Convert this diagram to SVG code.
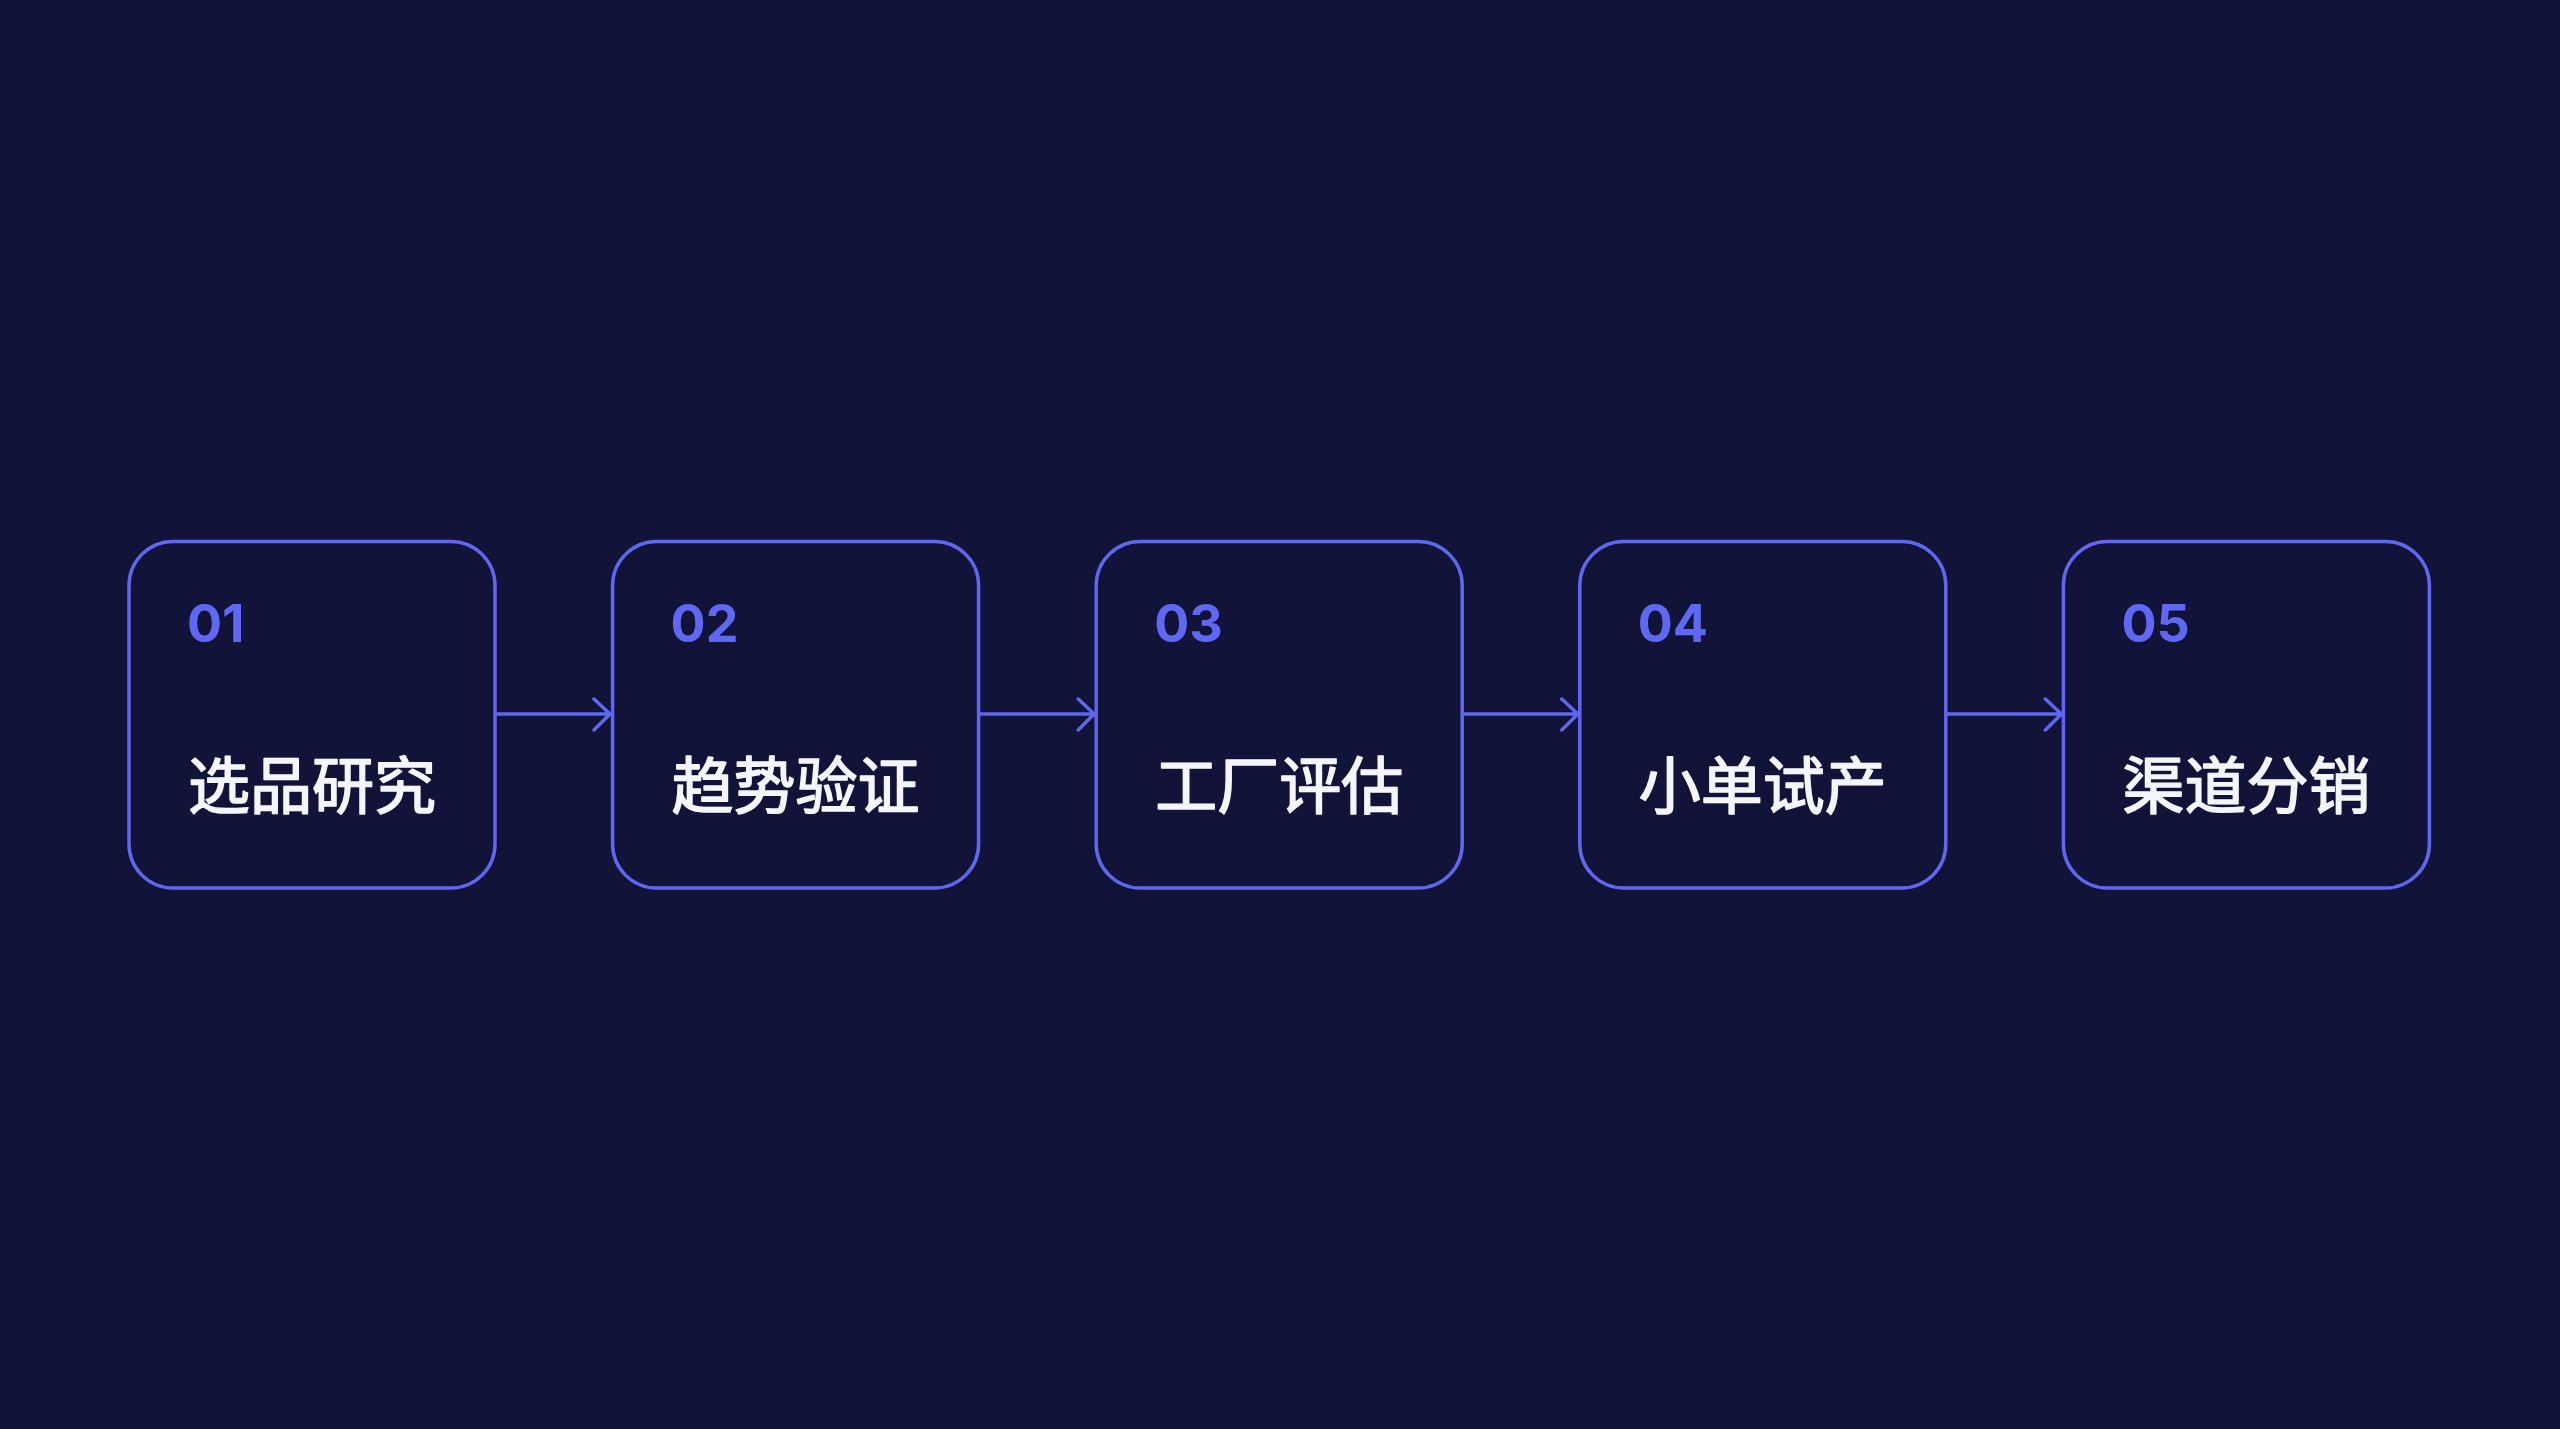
<svg xmlns="http://www.w3.org/2000/svg" width="2560" height="1429" viewBox="0 0 2560 1429">
<style>
.box{fill:#121339;stroke:#5f67ee;stroke-width:3.5}
.num{font-family:Inter,"Liberation Sans",sans-serif;font-weight:700;font-size:52px;fill:#5f68f2}
.lbl{font-family:"Noto Sans CJK SC","Noto Sans",sans-serif;font-weight:400;font-size:62px;fill:#f5f6fb;stroke:#f5f6fb;stroke-width:1.6;stroke-linejoin:round}
.conn{fill:none;stroke:#5f67ee;stroke-width:3.5;stroke-linecap:round;stroke-linejoin:round}
</style>
<rect width="2560" height="1429" fill="#121339"/>
<g id="connectors">
<path class="conn" d="M495 714H610M594 699L610 714L594 730"/>
<path class="conn" d="M978.6 714H1094.2M1078.2 699L1094.2 714L1078.2 730"/>
<path class="conn" d="M1462.2 714H1577.8M1561.8 699L1577.8 714L1561.8 730"/>
<path class="conn" d="M1945.8 714H2061.4M2045.4 699L2061.4 714L2045.4 730"/>
</g>
<g id="node1">
<rect class="box" x="129" y="541.5" width="366" height="346.5" rx="44"/>
<text class="num" x="187" y="642">01</text>
<text class="lbl" x="188" y="809">选品研究</text>
</g>
<g id="node2">
<rect class="box" x="612.6" y="541.5" width="366" height="346.5" rx="44"/>
<text class="num" x="670.6" y="642">02</text>
<text class="lbl" x="671.6" y="809">趋势验证</text>
</g>
<g id="node3">
<rect class="box" x="1096.2" y="541.5" width="366" height="346.5" rx="44"/>
<text class="num" x="1154.2" y="642">03</text>
<text class="lbl" x="1155.2" y="809">工厂评估</text>
</g>
<g id="node4">
<rect class="box" x="1579.8" y="541.5" width="366" height="346.5" rx="44"/>
<text class="num" x="1637.8" y="642">04</text>
<text class="lbl" x="1638.8" y="809">小单试产</text>
</g>
<g id="node5">
<rect class="box" x="2063.4" y="541.5" width="366" height="346.5" rx="44"/>
<text class="num" x="2121.4" y="642">05</text>
<text class="lbl" x="2122.4" y="809">渠道分销</text>
</g>
</svg>
